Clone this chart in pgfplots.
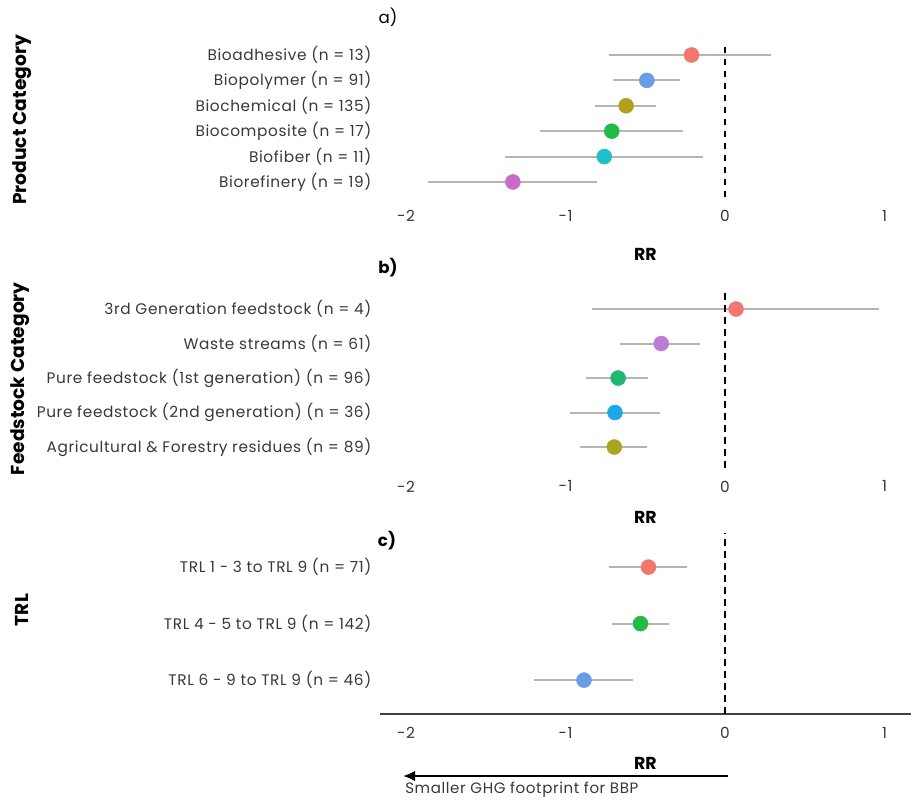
\documentclass[border=0pt]{standalone}
\usepackage{fontspec}
\setmainfont{Poppins}
\newfontfamily\labfont[LetterSpace=4]{Poppins}
\usepackage{pgfplots}
\usepackage{pgfplotstable}
\usetikzlibrary{arrows.meta}
\pgfplotsset{compat=1.18}
\definecolor{cRed}{HTML}{F2776F}
\definecolor{cBlue}{HTML}{6A9CE8}
\definecolor{cOliveA}{HTML}{B3A01A}
\definecolor{cGreenA}{HTML}{22BB45}
\definecolor{cCyan}{HTML}{1EBFCB}
\definecolor{cMag}{HTML}{CC6AC8}
\definecolor{cOliveB}{HTML}{A8A520}
\definecolor{cTeal}{HTML}{22B573}
\definecolor{cSky}{HTML}{1BA9E8}
\definecolor{cLilac}{HTML}{BB7CD2}
\definecolor{whisk}{HTML}{BBB3AD}
\definecolor{labcol}{HTML}{383838}

\pgfplotstableread{
y est lo hi cls
6 -0.21 -0.73 0.29 a
5 -0.49 -0.70 -0.28 b
4 -0.62 -0.815 -0.43 c
3 -0.71 -1.16 -0.265 d
2 -0.757 -1.38 -0.136 e
1 -1.33 -1.86 -0.80 f
}\tabA

\pgfplotstableread{
y est lo hi cls
5 0.069 -0.836 0.966 a
4 -0.40 -0.66 -0.157 b
3 -0.67 -0.87 -0.48 c
2 -0.69 -0.97 -0.41 d
1 -0.694 -0.91 -0.49 e
}\tabB

\pgfplotstableread{
y est lo hi cls
3 -0.48 -0.73 -0.24 a
2 -0.53 -0.71 -0.353 b
1 -0.884 -1.20 -0.575 c
}\tabC

\pgfplotsset{
  forest/.style={
    scale only axis, width=398.25pt,
    xmin=-2.163, xmax=1.166, ymin=0.4,
    xtick={-2,-1,0,1},
    /pgf/number format/assume math mode=true,
    axis x line*=bottom, axis y line*=left,
    axis line style={draw=none},
    major tick length=0pt,
    tick label style={font=\labfont\fontsize{11.5}{13}\selectfont, text=labcol},
    xticklabel style={anchor=center, yshift=-14pt},
    yticklabel style={xshift=-3pt},
    clip=false,
  },
  whiskers/.style={only marks, mark=none,
    error bars/.cd, x dir=both, x explicit, error mark=none,
    error bar style={line width=1.5pt, color=whisk}},
  dots/.style={scatter, only marks, mark=*, mark size=5.6pt,
    scatter src=explicit symbolic},
}

\begin{document}
\begin{tikzpicture}
\path[use as bounding box] (0,0) rectangle (683.25pt,-600pt);

% Panel a
\begin{axis}[forest, at={(285pt,-147.9pt)}, anchor=south west,
  height=114.3pt, ymax=6.4,
  ytick={1,2,3,4,5,6},
  yticklabels={Biorefinery (n = 19), Biofiber (n = 11), Biocomposite (n = 17),
    Biochemical (n = 135), Biopolymer (n = 91), Bioadhesive (n = 13)}]
\addplot[whiskers] table[x=est, y=y,
  x error plus expr={\thisrow{hi}-\thisrow{est}},
  x error minus expr={\thisrow{est}-\thisrow{lo}}] {\tabA};
\addplot[black, line width=1.1pt, dash pattern=on 5pt off 4pt] coordinates {(0,0.4) (0,6.4)};
\addplot[dots, scatter/classes={
  a={fill=cRed,draw=cRed}, b={fill=cBlue,draw=cBlue}, c={fill=cOliveA,draw=cOliveA},
  d={fill=cGreenA,draw=cGreenA}, e={fill=cCyan,draw=cCyan}, f={fill=cMag,draw=cMag}}]
  table[x=est, y=y, meta=cls] {\tabA};
\end{axis}

% Panel b
\begin{axis}[forest, at={(285pt,-350.8pt)}, anchor=south west,
  height=134.55pt, ymax=5.6,
  ytick={1,2,3,4,5},
  yticklabels={Agricultural \& Forestry residues (n = 89),
    Pure feedstock (2nd generation) (n = 36),
    Pure feedstock (1st generation) (n = 96),
    Waste streams (n = 61), 3rd Generation feedstock (n = 4)}]
\addplot[whiskers] table[x=est, y=y,
  x error plus expr={\thisrow{hi}-\thisrow{est}},
  x error minus expr={\thisrow{est}-\thisrow{lo}}] {\tabB};
\addplot[black, line width=1.1pt, dash pattern=on 5pt off 4pt] coordinates {(0,0.4) (0,5.6)};
\addplot[dots, scatter/classes={
  a={fill=cRed,draw=cRed}, b={fill=cLilac,draw=cLilac}, c={fill=cTeal,draw=cTeal},
  d={fill=cSky,draw=cSky}, e={fill=cOliveB,draw=cOliveB}}]
  table[x=est, y=y, meta=cls] {\tabB};
\end{axis}

% Panel c
\begin{axis}[forest, at={(285pt,-535.5pt)}, anchor=south west,
  height=135.6pt, ymax=3.6,
  x axis line style={draw=black!75, line width=0.9pt},
  ytick={1,2,3},
  yticklabels={TRL 6 - 9 to TRL 9 (n = 46), TRL 4 - 5 to TRL 9 (n = 142),
    TRL 1 - 3 to TRL 9 (n = 71)}]
\addplot[whiskers] table[x=est, y=y,
  x error plus expr={\thisrow{hi}-\thisrow{est}},
  x error minus expr={\thisrow{est}-\thisrow{lo}}] {\tabC};
\addplot[black, line width=1.1pt, dash pattern=on 5pt off 4pt] coordinates {(0,0.4) (0,3.6)};
\addplot[dots, scatter/classes={
  a={fill=cRed,draw=cRed}, b={fill=cGreenA,draw=cGreenA}, c={fill=cBlue,draw=cBlue}}]
  table[x=est, y=y, meta=cls] {\tabC};
\end{axis}

% Titles and labels
\node[rotate=90, font=\fontsize{14}{16}\bfseries] at (16.5pt,-90pt) {Product Category};
\node[rotate=90, font=\fontsize{14}{16}\bfseries] at (15pt,-284pt) {Feedstock Category};
\node[rotate=90, font=\fontsize{14}{16}\bfseries] at (16.5pt,-457.5pt) {TRL};
\node[font=\fontsize{12.5}{14}\selectfont] at (291pt,-12.75pt) {a)};
\node[font=\fontsize{12.5}{14}\bfseries] at (291pt,-201pt) {b)};
\node[font=\fontsize{12.5}{14}\bfseries] at (290.25pt,-405.75pt) {c)};
\node[font=\fontsize{13}{15}\bfseries] at (484.1pt,-190.5pt) {RR};
\node[font=\fontsize{13}{15}\bfseries] at (484.1pt,-387.75pt) {RR};
\node[font=\fontsize{13}{15}\bfseries] at (484.1pt,-572.25pt) {RR};
\draw[line width=2.2pt, -{Latex[length=9pt,width=8pt]}] (546pt,-582pt) -- (302.25pt,-582pt);
\node[anchor=west, font=\labfont\fontsize{11.3}{13}\selectfont, text=labcol, inner sep=0pt] at (303.75pt,-592.5pt) {Smaller GHG footprint for BBP};
\end{tikzpicture}
\end{document}
